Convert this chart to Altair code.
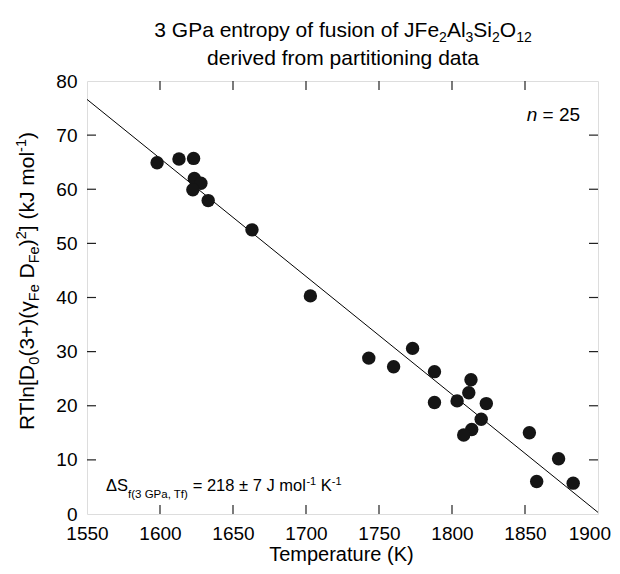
import altair as alt
import pandas as pd

# ---------------- data ----------------
temps = [1598, 1613, 1623, 1623.5, 1628, 1622.5, 1633, 1663, 1703, 1743, 1760, 1773,
         1788, 1813, 1811.5, 1788, 1803.5, 1823.5, 1820, 1813.5, 1808, 1853, 1858, 1873, 1883]
values = [64.9, 65.6, 65.7, 62.0, 61.1, 59.9, 57.9, 52.5, 40.3, 28.8, 27.2, 30.6,
          26.3, 24.8, 22.4, 20.6, 20.9, 20.4, 17.5, 15.6, 14.6, 15.0, 6.0, 10.2, 5.7]
fit_t = [1550, 1900]
fit_v = [76.6, 0.3]
x_ticks = [1550, 1600, 1650, 1700, 1750, 1800, 1850]
x_last = [1900]
y_ticks = [0, 10, 20, 30, 40, 50, 60, 70, 80]
x_inner = [1600, 1650, 1700, 1750, 1800, 1850]
y_inner = [10, 20, 30, 40, 50, 60, 70]

FONT = "Liberation Sans"
W, H = 511, 433
PX0, PY0 = 87, 81  # page position of plot origin

pts = pd.DataFrame({"T": temps, "v": values})
fit = pd.DataFrame({"T": fit_t, "v": fit_v})
xt = pd.DataFrame({"T": x_inner})
yt = pd.DataFrame({"v": y_inner})
xl = pd.DataFrame({"T": x_last, "lab": [str(v) for v in x_last]})
dummy = pd.DataFrame({"a": [0]})

xs = alt.Scale(domain=[1550, 1900], nice=False, zero=False)
ys = alt.Scale(domain=[0, 80], nice=False, zero=False)

x_axis = alt.Axis(values=x_ticks, format="d", title=None, grid=False, ticks=False, tickSize=0,
                  domain=False, labelFontSize=19, labelFont=FONT, labelColor="black",
                  labelPadding=10, labelFlush=False, labelOverlap=False)
y_axis = alt.Axis(values=y_ticks, format="d", title=None, grid=False, ticks=False, tickSize=0,
                  domain=False, labelFontSize=19, labelFont=FONT, labelColor="black",
                  labelPadding=10, labelFlush=False, labelOverlap=False)

points = alt.Chart(pts).mark_circle(size=180, color="#151515", opacity=1).encode(
    x=alt.X("T:Q", scale=xs, axis=x_axis),
    y=alt.Y("v:Q", scale=ys, axis=y_axis),
)
line = alt.Chart(fit).mark_line(color="black", strokeWidth=1).encode(
    x=alt.X("T:Q", scale=xs), y=alt.Y("v:Q", scale=ys))

# last x label (kept inside the page edge)
last_lab = alt.Chart(xl).mark_text(align="right", baseline="alphabetic", dx=13, fontSize=19,
                                   font=FONT, color="black").encode(
    x=alt.X("T:Q", scale=xs), y=alt.value(H + 25.5), text="lab:N")

TK = dict(color="#222", strokeWidth=1.2)
tb = alt.Chart(xt).mark_rule(**TK).encode(x=alt.X("T:Q", scale=xs), y=alt.value(H), y2=alt.value(H - 9))
tt = alt.Chart(xt).mark_rule(**TK).encode(x=alt.X("T:Q", scale=xs), y=alt.value(0), y2=alt.value(9))
tl = alt.Chart(yt).mark_rule(**TK).encode(y=alt.Y("v:Q", scale=ys), x=alt.value(0), x2=alt.value(9))
tr = alt.Chart(yt).mark_rule(**TK).encode(y=alt.Y("v:Q", scale=ys), x=alt.value(W), x2=alt.value(W - 9))

# ---------------- rich text layout ----------------
WID = {' ': 278, '(': 333, ')': 333, '+': 584, ',': 278, '-': 333, '.': 278, '=': 584, '±': 584,
       'Δ': 668, 'γ': 500, 'A': 667, 'D': 722, 'F': 611, 'G': 778, 'J': 500, 'K': 667, 'O': 778,
       'P': 667, 'R': 722, 'S': 667, 'T': 611, '[': 278, ']': 278, 'a': 556, 'b': 556, 'c': 500,
       'd': 556, 'e': 556, 'f': 278, 'g': 556, 'h': 556, 'i': 222, 'j': 222, 'k': 500, 'l': 222,
       'm': 833, 'n': 556, 'o': 556, 'p': 556, 'r': 333, 's': 500, 't': 278, 'u': 556, 'v': 500,
       'y': 500}


def tw(s, size):
    return sum(WID.get(c, 556) for c in s) * size / 1000.0


def total(parts):
    return sum(tw(p[0], p[1]) for p in parts)


def layout(parts, x0, y0, vertical=False):
    out = []
    pos = 0.0
    for p in parts:
        t, s, sh = p[0], p[1], p[2]
        style = p[3] if len(p) > 3 else "normal"
        lead = len(t) - len(t.lstrip(" "))
        off = pos + tw(" " * lead, s)
        if vertical:
            out.append(dict(text=t.strip(), x=x0 + sh, y=y0 - off, size=s, angle=270, style=style))
        else:
            out.append(dict(text=t.strip(), x=x0 + off, y=y0 + sh, size=s, angle=0, style=style))
        pos += tw(t, s)
    return out


segs = []
title1 = [("3 GPa entropy of fusion of JFe", 21, 0), ("2", 14, 5), ("Al", 21, 0), ("3", 14, 5),
          ("Si", 21, 0), ("2", 14, 5), ("O", 21, 0), ("12", 14, 5)]
segs += layout(title1, 343 - total(title1) / 2, 37)
title2 = [("derived from partitioning data", 21, 0)]
segs += layout(title2, 343 - total(title2) / 2, 65)

ylab = [("RTln[D", 21, 0), ("0", 14.5, 5), ("(3+)(γ", 21, 0), ("Fe", 14.5, 5), (" D", 21, 0),
        ("Fe", 14.5, 5), (")", 21, 0), ("2", 14.5, -8), ("] (kJ mol", 21, 0), ("-1", 14.5, -8),
        (")", 21, 0)]
segs += layout(ylab, 34, 281 + total(ylab) / 2, vertical=True)

xlab = [("Temperature (K)", 20, 0)]
segs += layout(xlab, 342.5 - total(xlab) / 2, 561)

ann = [("ΔS", 16.5, 0), ("f(3 GPa, Tf)", 11.5, 7), (" = 218 ± 7 J mol", 16.5, 0), ("-1", 11, -6.5),
       (" K", 16.5, 0), ("-1", 11, -6.5)]
segs += layout(ann, 106, 491)

nlab = [("n", 19, 0, "italic"), (" = 25", 19, 0)]
segs += layout(nlab, 526.7, 120.7)

texts = []
for sg in segs:
    texts.append(
        alt.Chart(dummy).mark_text(align="left", baseline="alphabetic", angle=sg["angle"],
                                   fontSize=sg["size"], font=FONT, fontStyle=sg["style"],
                                   color="black").encode(
            x=alt.value(sg["x"] - PX0), y=alt.value(sg["y"] - PY0), text=alt.value(sg["text"]))
    )

chart = alt.layer(line, points, last_lab, tb, tt, tl, tr, *texts).properties(
    width=W, height=H,
    autosize=alt.AutoSizeParams(type="none"),
    padding={"left": 79, "top": 73, "right": 14, "bottom": 52},
).configure_view(stroke="#222", strokeWidth=1.5).configure(background="white")

chart.save("out.html", embed_options={"renderer": "svg", "actions": False})
